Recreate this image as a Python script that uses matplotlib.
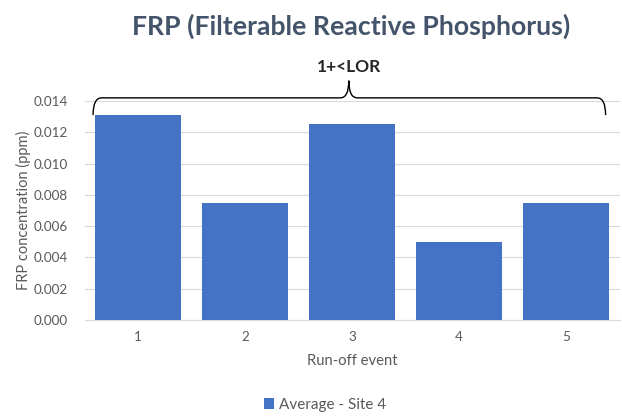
import matplotlib
matplotlib.use("Agg")
import matplotlib.pyplot as plt
from matplotlib.path import Path
from matplotlib.patches import PathPatch

categories = ["1", "2", "3", "4", "5"]
values = [0.0131, 0.0075, 0.0125, 0.0050, 0.0075]
yticks = [0.000, 0.002, 0.004, 0.006, 0.008, 0.010, 0.012, 0.014]
series_name = "Average - Site 4"
annotation = "1+<LOR"

plt.rcParams['font.family'] = ['Lato', 'DejaVu Sans']
fig = plt.figure(figsize=(6.22, 4.17), dpi=100)
ax = fig.add_axes([84.5/622, 1 - 320/417, (619.5-84.5)/622, (320-101)/417])

x = list(range(1, len(categories) + 1))
ax.bar(x, values, width=0.8, color="#4472C4", label=series_name, zorder=3)
ax.set_xlim(0.5, 5.5)
ax.set_ylim(0, 0.014)
ax.set_yticks(yticks)
ax.set_yticklabels([f"{v:.3f}" for v in yticks])
ax.set_xticks(x)
ax.set_xticklabels(categories)
ax.grid(axis="y", color="#D9D9D9", linewidth=0.8, zorder=0)
for s in ["top", "right", "left"]:
    ax.spines[s].set_visible(False)
ax.spines["bottom"].set_color("#D9D9D9")
ax.tick_params(axis="both", length=0, colors="#595959", labelsize=9.7)
ax.tick_params(axis="y", pad=12)
ax.tick_params(axis="x", pad=8)
ax.set_xlabel("Run-off event", color="#595959", fontsize=10.7, labelpad=8)
ax.set_ylabel("FRP concentration (ppm)", color="#595959", fontsize=10.5, labelpad=2)

# Curly brace over all bars
x0, x1, xm = 0.58, 5.37, 2.97
yb, yl, yt = 0.0131, 0.0142, 0.0153
r = 0.08
verts = [
    (x0, yb), (x0, yl), (x0 + r, yl),
    (xm - r, yl), (xm, yl), (xm, yt),
    (xm, yl), (xm + r, yl),
    (x1 - r, yl), (x1, yl), (x1, yb),
]
codes = [Path.MOVETO, Path.CURVE3, Path.CURVE3,
         Path.LINETO, Path.CURVE3, Path.CURVE3,
         Path.CURVE3, Path.CURVE3,
         Path.LINETO, Path.CURVE3, Path.CURVE3]
ax.add_patch(PathPatch(Path(verts, codes), facecolor="none", edgecolor="black",
                       linewidth=1.0, clip_on=False, zorder=5))
ax.text(xm, 0.0162, annotation, ha="center", va="center", fontsize=12.5,
        fontweight="bold", color="#262626")

fig.text(351/622, 1 - 26/417, "FRP (Filterable Reactive Phosphorus)", ha="center",
         va="center", fontsize=19.2, fontweight="bold", color="#44546A")

fig.legend(loc="center", bbox_to_anchor=(325/622, 1 - 405/417), frameon=False,
           fontsize=11, handlelength=0.7, handleheight=0.7, handletextpad=0.3,
           labelcolor="#595959")

fig.savefig("out.png", dpi=100)
